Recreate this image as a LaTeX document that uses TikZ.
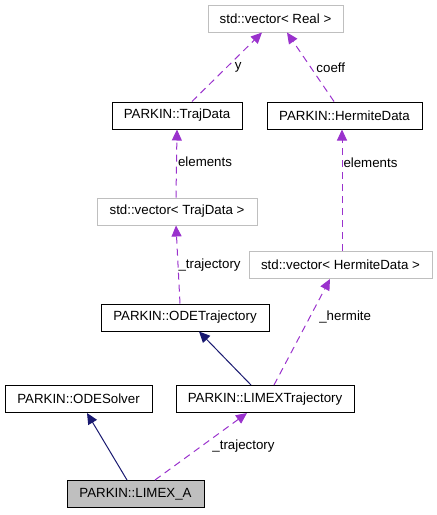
\documentclass[tikz,border=0pt]{standalone}
\usepackage{fontspec}
\setmainfont{Liberation Sans}
\usetikzlibrary{arrows.meta}
\definecolor{navyline}{HTML}{191970}
\definecolor{purpline}{HTML}{9A32CD}
\definecolor{grayfill}{HTML}{BFBFBF}
\definecolor{grayedge}{HTML}{BFBFBF}
\begin{document}
\begin{tikzpicture}[x=1pt,y=-1pt,
  every node/.style={font=\fontsize{13.3}{16}\selectfont, inner sep=0pt},
  cls/.style={draw=black, line width=1pt, fill=white, minimum height=27pt},
  ext/.style={draw=grayedge, line width=1pt, fill=white, minimum height=27pt},
  cur/.style={draw=black, line width=1pt, fill=grayfill, minimum height=27pt},
  inh/.style={draw=navyline, line width=1pt, -{Triangle[length=11pt,width=10pt]}},
  use/.style={draw=purpline, line width=1pt, dash pattern=on 7pt off 5pt, -{Triangle[length=11pt,width=10pt]}},
  lbl/.style={font=\fontsize{13.3}{16}\selectfont}
]
\useasboundingbox (0,0) rectangle (437,515);

\node[ext, minimum width=135pt] (vreal) at (275.5,18.5) {std::vector< Real >};
\node[cls, minimum width=130pt] (traj) at (177,115.5) {PARKIN::TrajData};
\node[cls, minimum width=155pt] (herm) at (344.5,115.5) {PARKIN::HermiteData};
\node[ext, minimum width=160pt] (vtraj) at (177,211.5) {std::vector< TrajData >};
\node[ext, minimum width=183pt] (vherm) at (340.5,265) {std::vector< HermiteData >};
\node[cls, minimum width=168pt] (odetraj) at (185,317.5) {PARKIN::ODETrajectory};
\node[cls, minimum width=147pt] (odesolv) at (78.5,399) {PARKIN::ODESolver};
\node[cls, minimum width=178pt] (limextraj) at (265,399) {PARKIN::LIMEXTrajectory};
\node[cur, minimum width=137pt] (limexa) at (135.5,494) {PARKIN::LIMEX\_A};

\draw[inh] ([xshift=-8.5pt]limexa.north) -- ([xshift=8.5pt]odesolv.south);
\draw[use] ([xshift=19.5pt]limexa.north) -- node[lbl, pos=0.51, right, xshift=10pt] (l1) {\_trajectory} ([xshift=-18pt]limextraj.south);
\draw[inh] ([xshift=-14pt]limextraj.north) -- ([xshift=14pt]odetraj.south);
\draw[use] ([xshift=9pt]limextraj.north) -- node[lbl, pos=0.64, right, xshift=9pt] (l2) {\_hermite} ([xshift=-10.5pt]vherm.south);
\draw[use] ([xshift=-5pt]odetraj.north) -- node[lbl, pos=0.49, right, xshift=0pt] (l3) {\_trajectory} ([xshift=-1pt]vtraj.south);
\draw[use] ([xshift=-1pt]vtraj.north) -- node[lbl, pos=0.52, right, xshift=1pt] (l4) {elements} (traj.south);
\draw[use] ([xshift=1.5pt]vherm.north) -- node[lbl, pos=0.73, right, xshift=1pt] (l5) {elements} ([xshift=-2.5pt]herm.south);
\draw[use] ([xshift=15pt]traj.north) -- node[lbl, pos=0.49, right, xshift=8pt] (l6) {y} ([xshift=-13.5pt]vreal.south);
\draw[use] ([xshift=-10.5pt]herm.north) -- node[lbl, pos=0.49, right, xshift=5pt] (l7) {coeff} ([xshift=11.5pt]vreal.south);
\end{tikzpicture}
\end{document}
